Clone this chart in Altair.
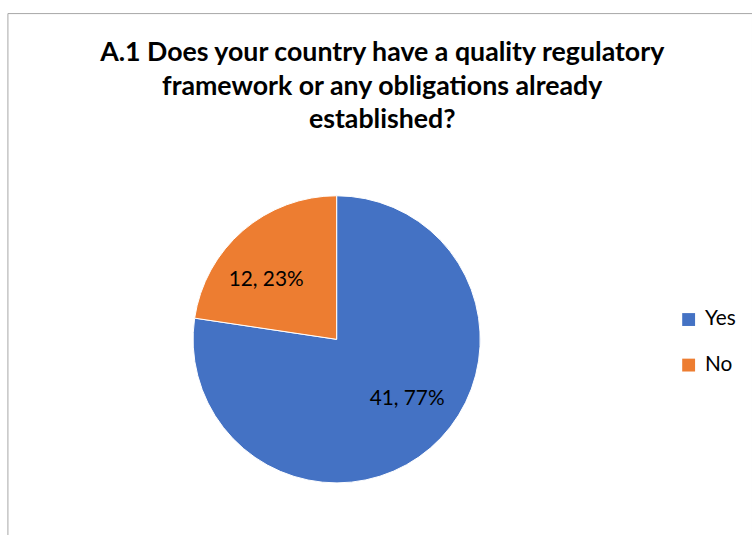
import altair as alt
import pandas as pd

categories = ["Yes", "No"]
counts = [41, 12]
percents = ["77%", "23%"]
colors = ["#4472C4", "#ED7D31"]
title_lines = [
    "A.1 Does your country have a quality regulatory",
    "framework or any obligations already",
    "established?",
]

df = pd.DataFrame({
    "answer": categories,
    "count": counts,
    "pct": percents,
    "order": list(range(len(categories))),
})
df["label"] = df["count"].astype(str) + ", " + df["pct"]

FONT = "Lato"
cx, cy = 332.5, 329.5

base = alt.Chart(df).encode(
    theta=alt.Theta("count:Q", stack=True),
    order=alt.Order("order:Q"),
)

pie = base.mark_arc(outerRadius=145, stroke="white", strokeWidth=1).encode(
    x=alt.value(cx),
    y=alt.value(cy),
    color=alt.Color(
        "answer:N",
        scale=alt.Scale(domain=categories, range=colors),
        sort=categories,
        legend=alt.Legend(
            title=None,
            orient="none",
            legendX=677.5,
            legendY=299,
            symbolType="square",
            symbolSize=169,
            symbolStrokeWidth=0,
            labelFontSize=21,
            labelFont=FONT,
            labelColor="#000000",
            labelOffset=6,
            rowPadding=24,
            padding=0,
        ),
    ),
)

labels = base.mark_text(
    radius=93, thetaOffset=-0.16, fontSize=21, font=FONT, color="#000000"
).encode(
    x=alt.value(cx),
    y=alt.value(cy),
    text="label:N",
)

title = alt.Chart(df.head(1)).mark_text(
    text=title_lines,
    fontSize=27,
    fontWeight="bold",
    font=FONT,
    color="#000000",
    lineHeight=34,
    baseline="alphabetic",
    align="center",
).encode(x=alt.value(378.5), y=alt.value(48.5))

chart = (
    alt.layer(pie, labels, title)
    .properties(
        width=752,
        height=535,
        padding={"left": 7.5, "top": 10.5, "right": 0, "bottom": 0},
        autosize=alt.AutoSizeParams(type="none"),
        background="white",
    )
    .configure_view(stroke="#A6A6A6", strokeWidth=1)
)

chart.save("out.html", embed_options={"renderer": "svg", "actions": False})
